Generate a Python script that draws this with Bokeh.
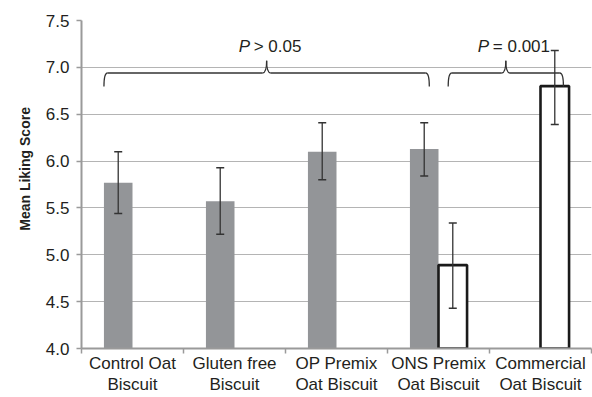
from bokeh.plotting import figure
from bokeh.models import Range1d, FixedTicker, Whisker, TeeHead, ColumnDataSource
from bokeh.core.properties import value
from bokeh.embed import file_html
from bokeh.resources import INLINE

# ---- data ----
categories = ["Control Oat\nBiscuit", "Gluten free\nBiscuit", "OP Premix\nOat Biscuit",
              "ONS Premix\nOat Biscuit", "Commercial\nOat Biscuit"]

grey_cats = categories[0:4]
grey_mean = [5.77, 5.57, 6.10, 6.13]
grey_lower = [5.44, 5.22, 5.80, 5.84]
grey_upper = [6.10, 5.93, 6.41, 6.41]

white_cats = categories[3:5]
white_mean = [4.89, 6.80]
white_lower = [4.43, 6.39]
white_upper = [5.34, 7.18]

y_ticks = [4.0, 4.5, 5.0, 5.5, 6.0, 6.5, 7.0, 7.5]
y_tick_labels = ["4.0", "4.5", "5.0", "5.5", "6.0", "6.5", "7.0", "7.5"]
y_title = "Mean Liking Score"

brace_x0 = [0.22, 3.595]
brace_x1 = [3.41, 4.725]
brace_text = ["> 0.05", "= 0.001"]

FONT = "Liberation Sans"
TXT = "#231f20"
AX = "#9a9a9a"

# ---- layout helpers ----
idx = {c: i for i, c in enumerate(categories)}
grey_x = [idx[c] + 0.36 for c in grey_cats]
white_x = [idx[c] + 0.64 for c in white_cats]

p = figure(width=592, height=397, x_range=Range1d(0, 5), y_range=Range1d(4.0, 7.5),
           output_backend="svg", toolbar_location=None,
           min_border_left=81, min_border_right=1, min_border_top=20, min_border_bottom=49)
p.outline_line_color = None
p.background_fill_color = "white"
p.border_fill_color = "white"

p.xgrid.visible = False
p.ygrid.grid_line_color = "#b4b4b4"
p.ygrid.grid_line_width = 1

# y axis
p.yaxis.ticker = FixedTicker(ticks=y_ticks, minor_ticks=[])
p.yaxis.major_label_overrides = dict(zip(y_ticks, y_tick_labels))
p.yaxis.axis_line_color = AX
p.yaxis.axis_line_width = 2
p.yaxis.major_tick_line_color = AX
p.yaxis.major_tick_line_width = 1.5
p.yaxis.major_tick_out = 5
p.yaxis.major_tick_in = 0
p.yaxis.minor_tick_line_color = None
p.yaxis.major_label_text_font = FONT
p.yaxis.major_label_text_font_size = "17px"
p.yaxis.major_label_text_color = TXT
p.yaxis.major_label_standoff = 7
# leading no-break spaces nudge the title upward, as in the reference
p.yaxis.axis_label = "\u00a0" * 8 + y_title
p.yaxis.axis_label_text_font = FONT
p.yaxis.axis_label_text_font_size = "14px"
p.yaxis.axis_label_text_font_style = "bold"
p.yaxis.axis_label_text_color = TXT
p.yaxis.axis_label_standoff = 10

# x axis
xt = [i + 0.5 for i in range(len(categories))]
p.xaxis.ticker = FixedTicker(ticks=xt, minor_ticks=list(range(len(categories) + 1)))
p.xaxis.major_label_overrides = {t: c for t, c in zip(xt, categories)}
p.xaxis.axis_line_color = AX
p.xaxis.axis_line_width = 2
p.xaxis.major_tick_line_color = None
p.xaxis.major_tick_out = 0
p.xaxis.major_tick_in = 0
p.xaxis.minor_tick_line_color = AX
p.xaxis.minor_tick_line_width = 1.5
p.xaxis.minor_tick_out = 5
p.xaxis.minor_tick_in = 0
p.xaxis.major_label_text_font = FONT
p.xaxis.major_label_text_font_size = "17px"
p.xaxis.major_label_text_color = TXT
p.xaxis.major_label_text_line_height = 1.15
p.xaxis.major_label_standoff = 0

# bars
p.vbar(x=grey_x, top=grey_mean, bottom=4.0, width=0.28,
       fill_color="#939598", line_color=None)
p.vbar(x=white_x, top=white_mean, bottom=4.0, width=0.28,
       fill_color="white", line_color="#1a1a1a", line_width=2.6)

# error bars
src = ColumnDataSource(dict(base=grey_x + white_x, lower=grey_lower + white_lower,
                            upper=grey_upper + white_upper))
w = Whisker(base="base", lower="lower", upper="upper", source=src,
            line_color="#333333", line_width=1.3, level="overlay",
            upper_head=TeeHead(size=8, line_color="#333333", line_width=1.5),
            lower_head=TeeHead(size=8, line_color="#333333", line_width=1.5))
p.add_layout(w)

# braces
line_y, end_y, tip_y = 6.94, 6.795, 7.07
dxe, dxt = 0.035, 0.04
mids = [(a + b) / 2 for a, b in zip(brace_x0, brace_x1)]
qx0, qy0, qx1, qy1, qcx, qcy = [], [], [], [], [], []
sx0, sx1, sy = [], [], []
for a, b, m in zip(brace_x0, brace_x1, mids):
    qx0 += [a]; qy0 += [end_y]; qcx += [a]; qcy += [line_y]; qx1 += [a + dxe]; qy1 += [line_y]
    qx0 += [b]; qy0 += [end_y]; qcx += [b]; qcy += [line_y]; qx1 += [b - dxe]; qy1 += [line_y]
    qx0 += [m - dxt]; qy0 += [line_y]; qcx += [m]; qcy += [line_y]; qx1 += [m]; qy1 += [tip_y]
    qx0 += [m + dxt]; qy0 += [line_y]; qcx += [m]; qcy += [line_y]; qx1 += [m]; qy1 += [tip_y]
    sx0 += [a + dxe, m + dxt]; sx1 += [m - dxt, b - dxe]; sy += [line_y, line_y]
p.quadratic(x0=qx0, y0=qy0, x1=qx1, y1=qy1, cx=qcx, cy=qcy,
            line_color="#333333", line_width=1.3)
p.segment(x0=sx0, y0=sy, x1=sx1, y1=sy, line_color="#333333", line_width=1.3)

# significance labels
p.text(x=mids, y=[7.22] * len(mids), text=["P"] * len(mids), x_offset=-28,
       text_font=value(FONT), text_font_style="italic", text_font_size="17px",
       text_align="left", text_baseline="alphabetic", text_color=TXT)
p.text(x=mids, y=[7.22] * len(mids), text=brace_text, x_offset=-13,
       text_font=value(FONT), text_font_size="17px",
       text_align="left", text_baseline="alphabetic", text_color=TXT)

open("out.html", "w").write(file_html(p, INLINE))
